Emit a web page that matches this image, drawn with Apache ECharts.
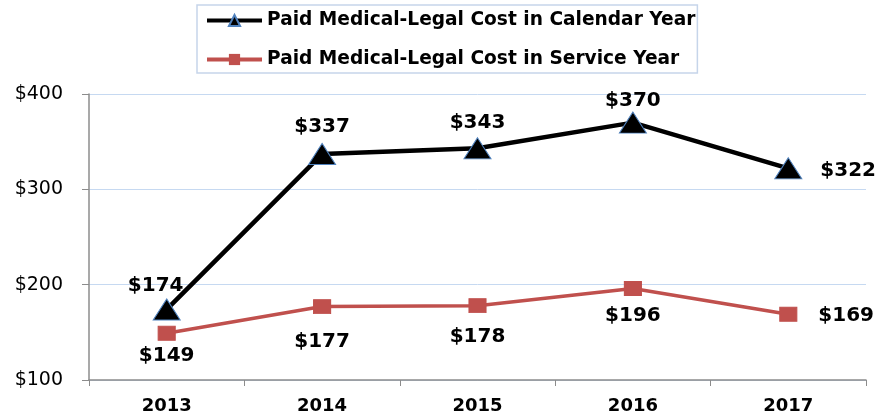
<!DOCTYPE html>
<html><head><meta charset="utf-8">
<script src="https://cdn.jsdelivr.net/npm/echarts@6/dist/echarts.min.js"></script>
<style>html,body{margin:0;padding:0;background:#fff}#c{width:876px;height:419px}</style>
</head><body><div id="c"></div>
<script>
const categories = ['2013','2014','2015','2016','2017'];
const calendarYear = [174, 337, 343, 370, 322];
const serviceYear = [149, 177, 178, 196, 169];
const yTicks = [100, 200, 300, 400];
const seriesNames = ['Paid Medical-Legal Cost in Calendar Year','Paid Medical-Legal Cost in Service Year'];

const calLabelPos = [
  {position:'top', offset:[-11,2.5]},
  {position:'top', offset:[0,-1]},
  {position:'top', offset:[0,0]},
  {position:'top', offset:[0,4.5]},
  {position:'right', offset:[13,2]}
];
const svcLabelPos = [
  {position:'bottom', offset:[0,0]},
  {position:'bottom', offset:[0,13]},
  {position:'bottom', offset:[0,9]},
  {position:'bottom', offset:[0,5]},
  {position:'right', offset:[16,2]}
];
const chart = echarts.init(document.getElementById('c'), null, {renderer:'canvas'});
const lblStyle = {fontFamily:'DejaVu Sans, sans-serif', fontWeight:'bold', fontSize:20, color:'#000'};
chart.setOption({
  animation:false,
  backgroundColor:'#fff',
  grid:{left:89, right:10, top:94, bottom:39},
  legend:{
    orient:'vertical', left:197, top:5,
    padding:[6,2,4,8], itemGap:20, itemWidth:55, itemHeight:14,
    borderColor:'#c6d5ea', borderWidth:1.5,
    lineStyle:{width:4},
    textStyle:{fontFamily:'DejaVu Sans, sans-serif', fontWeight:'bold', fontSize:18.6, color:'#000'},
    data:seriesNames
  },
  xAxis:{
    type:'category', data:categories, boundaryGap:true,
    axisLine:{lineStyle:{color:'#8c8c8c', width:1.5}},
    axisTick:{show:true, length:6, inside:false, lineStyle:{color:'#8c8c8c'}},
    axisLabel:{fontFamily:'DejaVu Sans, sans-serif', fontWeight:'bold', fontSize:18, color:'#000', margin:17}
  },
  yAxis:{
    type:'value', min:100, max:400, interval:100,
    axisLine:{show:true, lineStyle:{color:'#8c8c8c', width:1.5}},
    axisTick:{show:true, length:7, lineStyle:{color:'#8c8c8c'}},
    splitLine:{lineStyle:{color:'#c6d9f1', width:1}},
    axisLabel:{fontFamily:'DejaVu Sans, sans-serif', fontSize:19, color:'#000', margin:26,
      formatter:v=> yTicks.includes(v) ? '$'+v : ''}
  },
  series:[
    {
      name:seriesNames[0], type:'line', z:3,
      data:calendarYear.map((v,i)=>({value:v, label:Object.assign({show:true}, calLabelPos[i])})),
      symbol:'triangle', symbolSize:[27,21],
      lineStyle:{color:'#000', width:4.5},
      itemStyle:{color:'#000', borderColor:'#4f81bd', borderWidth:1},
      label:Object.assign({formatter:p=>'$'+p.value}, lblStyle)
    },
    {
      name:seriesNames[1], type:'line', z:2,
      data:serviceYear.map((v,i)=>({value:v, label:Object.assign({show:true}, svcLabelPos[i])})),
      symbol:'rect', symbolSize:[17,14],
      lineStyle:{color:'#c0504d', width:3.5},
      itemStyle:{color:'#c0504d', borderColor:'#c0504d'},
      label:Object.assign({formatter:p=>'$'+p.value}, lblStyle)
    }
  ]
});
</script>
</body></html>
